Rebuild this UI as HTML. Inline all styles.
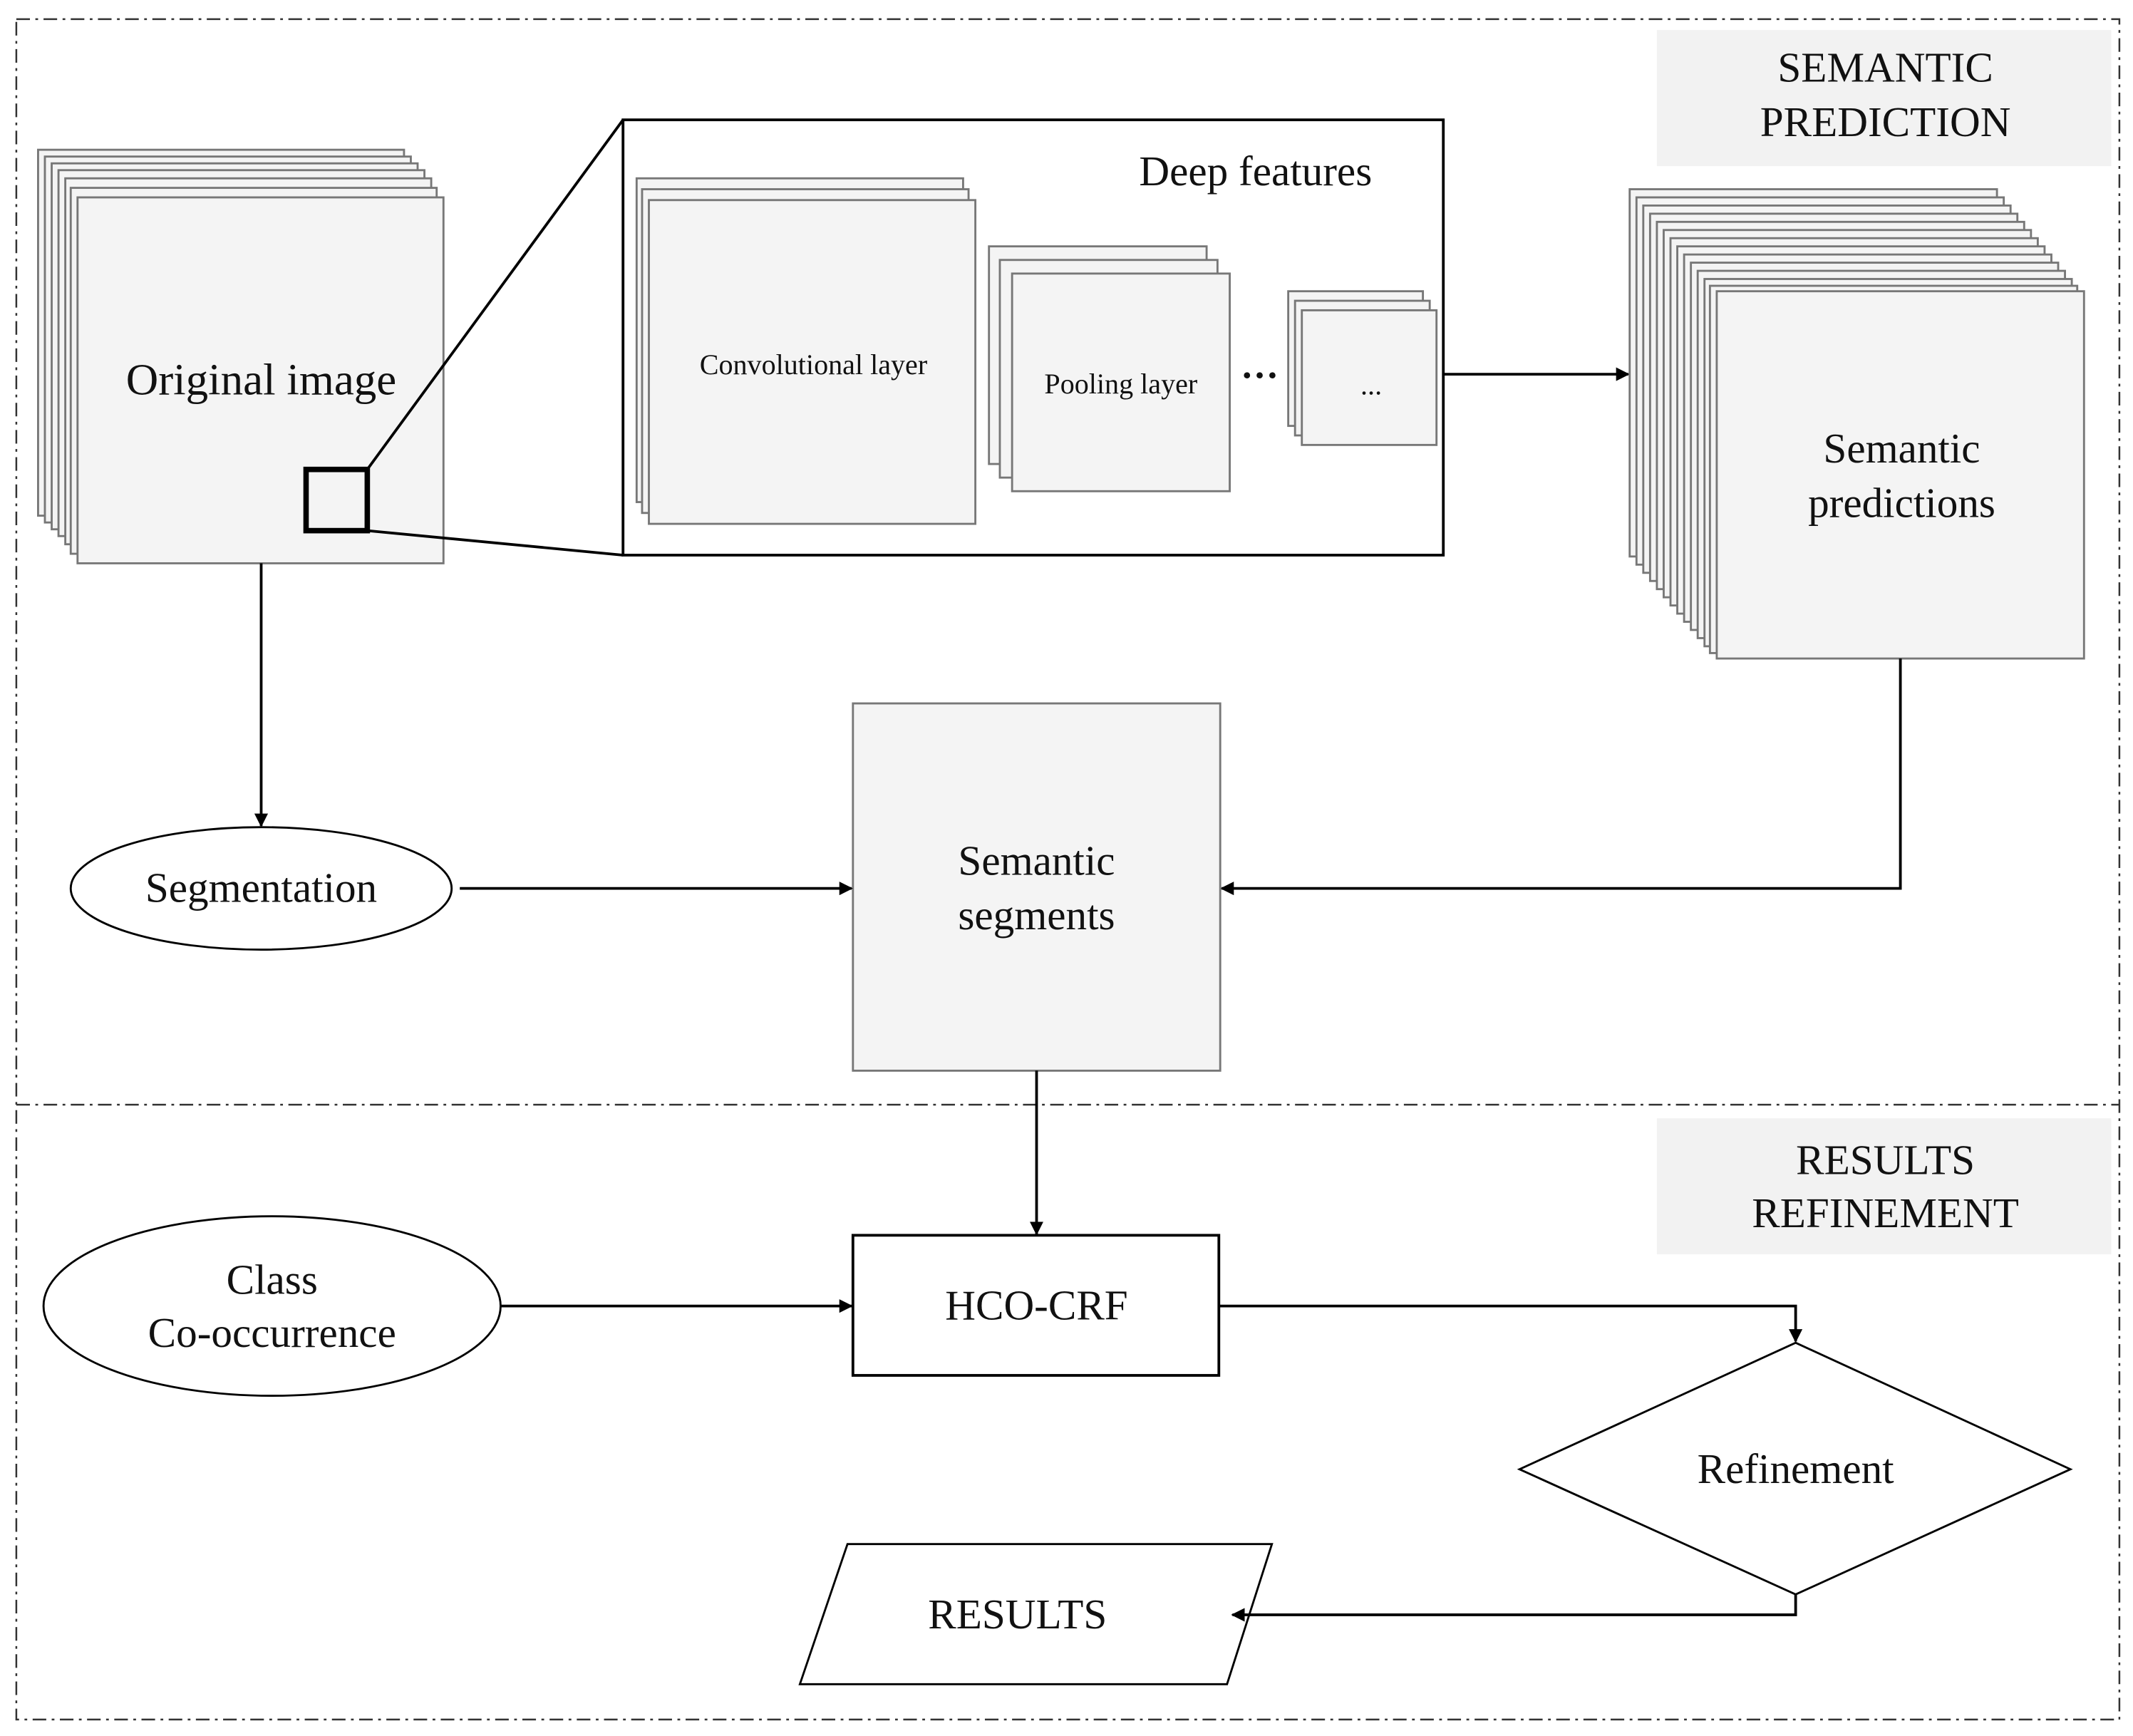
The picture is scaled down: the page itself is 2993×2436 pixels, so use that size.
<!DOCTYPE html>
<html><head><meta charset="utf-8"><style>html,body{margin:0;padding:0;background:#fff}svg{display:block}text{font-family:"Liberation Serif",serif;fill:#111}</style></head>
<body>
<svg width="2993" height="2436" viewBox="0 0 1568 1276" xmlns="http://www.w3.org/2000/svg">
<defs><marker id="a" markerWidth="10" markerHeight="10" refX="9" refY="5" orient="auto" markerUnits="userSpaceOnUse"><path d="M0,0 L10,5 L0,10 z" fill="#000"/></marker></defs>
<rect width="1568" height="1276" fill="#fff"/>
<g fill="none" stroke="#333" stroke-width="1.3" stroke-dasharray="10,4,2,4">
<rect x="12" y="14" width="1546" height="1250"/>
<line x1="12" y1="812" x2="1558" y2="812"/>
</g>
<rect x="1218" y="22" width="334" height="100" fill="#f2f2f2"/>
<rect x="1218" y="822" width="334" height="100" fill="#f2f2f2"/>
<g font-size="31" text-anchor="middle">
<text x="1386" y="60">SEMANTIC</text><text x="1386" y="100">PREDICTION</text>
<text x="1386" y="863">RESULTS</text><text x="1386" y="902">REFINEMENT</text>
</g>
<g fill="#f4f4f4" stroke="#777" stroke-width="1.5">
<rect x="28" y="110" width="269" height="269"/><rect x="33" y="115" width="269" height="269"/><rect x="38" y="120" width="269" height="269"/><rect x="43" y="125" width="269" height="269"/><rect x="48" y="131" width="269" height="269"/><rect x="52" y="138" width="269" height="269"/><rect x="57" y="145" width="269" height="269"/>
</g>
<text x="192" y="290" font-size="33" text-anchor="middle">Original image</text>
<rect x="225" y="345" width="45" height="45" fill="none" stroke="#000" stroke-width="4"/>
<line x1="270" y1="345" x2="458" y2="88" stroke="#000" stroke-width="2"/>
<line x1="270" y1="390" x2="458" y2="408" stroke="#000" stroke-width="2"/>
<rect x="458" y="88" width="603" height="320" fill="#fff" stroke="#000" stroke-width="2"/>
<text x="923" y="136" font-size="31" text-anchor="middle">Deep features</text>
<g fill="#f4f4f4" stroke="#777" stroke-width="1.5">
<rect x="468" y="131" width="240" height="238"/><rect x="472" y="139" width="240" height="238"/><rect x="477" y="147" width="240" height="238"/>
<rect x="727" y="181" width="160" height="160"/><rect x="735" y="191" width="160" height="160"/><rect x="744" y="201" width="160" height="160"/>
<rect x="947" y="214" width="99" height="99"/><rect x="952" y="221" width="99" height="99"/><rect x="957" y="228" width="99" height="99"/>
</g>
<g font-size="21" text-anchor="middle">
<text x="598" y="275">Convolutional layer</text>
<text x="824" y="289">Pooling layer</text>
<text x="1008" y="290">...</text>
</g>
<text x="926" y="285" font-size="28" font-weight="bold" text-anchor="middle">···</text>
<line x1="1061" y1="275" x2="1197" y2="275" stroke="#000" stroke-width="2" marker-end="url(#a)"/>
<g fill="#f4f4f4" stroke="#777" stroke-width="1.5">
<rect x="1198" y="139" width="270" height="270"/><rect x="1203" y="145" width="270" height="270"/><rect x="1208" y="151" width="270" height="270"/><rect x="1213" y="157" width="270" height="270"/><rect x="1218" y="163" width="270" height="270"/><rect x="1223" y="169" width="270" height="270"/><rect x="1228" y="175" width="270" height="270"/><rect x="1233" y="181" width="270" height="270"/><rect x="1238" y="187" width="270" height="270"/><rect x="1243" y="193" width="270" height="270"/><rect x="1248" y="199" width="270" height="270"/><rect x="1253" y="205" width="270" height="270"/><rect x="1257" y="210" width="270" height="270"/><rect x="1262" y="214" width="270" height="270"/>
</g>
<g font-size="31" text-anchor="middle">
<text x="1398" y="340">Semantic</text><text x="1398" y="380">predictions</text>
</g>
<polyline points="1397,484 1397,653 898,653" fill="none" stroke="#000" stroke-width="2" marker-end="url(#a)"/>
<rect x="627" y="517" width="270" height="270" fill="#f4f4f4" stroke="#777" stroke-width="1.5"/>
<g font-size="31" text-anchor="middle">
<text x="762" y="643">Semantic</text><text x="762" y="683">segments</text>
</g>
<line x1="192" y1="414" x2="192" y2="607" stroke="#000" stroke-width="2" marker-end="url(#a)"/>
<ellipse cx="192" cy="653" rx="140" ry="45" fill="#fff" stroke="#000" stroke-width="1.5"/>
<text x="192" y="663" font-size="31" text-anchor="middle">Segmentation</text>
<line x1="338" y1="653" x2="626" y2="653" stroke="#000" stroke-width="2" marker-end="url(#a)"/>
<line x1="762" y1="787" x2="762" y2="907" stroke="#000" stroke-width="2" marker-end="url(#a)"/>
<rect x="627" y="908" width="269" height="103" fill="#fff" stroke="#000" stroke-width="2"/>
<text x="762" y="970" font-size="31" text-anchor="middle">HCO-CRF</text>
<ellipse cx="200" cy="960" rx="168" ry="66" fill="#fff" stroke="#000" stroke-width="1.5"/>
<g font-size="31" text-anchor="middle"><text x="200" y="951">Class</text><text x="200" y="990">Co-occurrence</text></g>
<line x1="368" y1="960" x2="626" y2="960" stroke="#000" stroke-width="2" marker-end="url(#a)"/>
<polyline points="896,960 1320,960 1320,986" fill="none" stroke="#000" stroke-width="2" marker-end="url(#a)"/>
<polygon points="1320,987 1522,1080 1320,1172 1117,1080" fill="#fff" stroke="#000" stroke-width="1.5"/>
<text x="1320" y="1090" font-size="31" text-anchor="middle">Refinement</text>
<polygon points="623,1135 935,1135 902,1238 588,1238" fill="#fff" stroke="#000" stroke-width="1.5"/>
<polyline points="1320,1172 1320,1187 906,1187" fill="none" stroke="#000" stroke-width="2" marker-end="url(#a)"/>
<text x="748" y="1197" font-size="31" text-anchor="middle">RESULTS</text>
</svg>
</body></html>
